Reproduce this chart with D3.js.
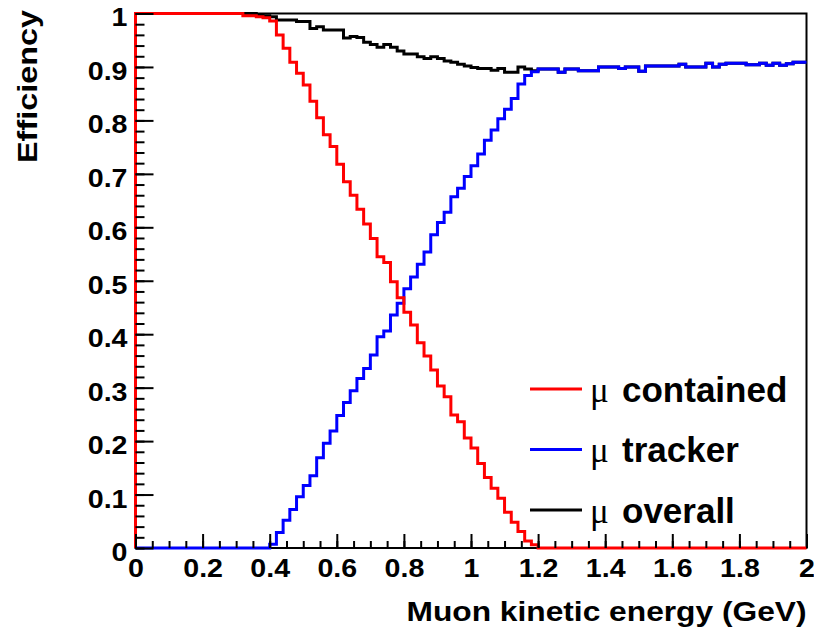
<!DOCTYPE html>
<html>
<head>
<meta charset="utf-8">
<script src="https://cdn.jsdelivr.net/npm/d3@7/dist/d3.min.js"></script>
<style>
  body { margin: 0; background: #fff; }
  svg text { font-family: "Liberation Sans", Arial, sans-serif; font-weight: bold; fill: #000; }
</style>
</head>
<body>
<script>
const WIDTH = 814;
const HEIGHT = 629;
const MARGIN = {left: 135.5, right: 7.5, top: 13.5, bottom: 81};

// histogram binning: 100 bins of 0.02 GeV between 0 and 2
const BIN_WIDTH = 0.02;

// efficiency per bin
const CONTAINED = [
  1, 1, 1, 1, 1, 1, 1, 1, 1, 1, 1, 1, 1, 1, 1, 1,
  0.996, 0.996, 0.994, 0.992, 0.986, 0.960, 0.935, 0.909, 0.888, 0.866,
  0.836, 0.805, 0.773, 0.751, 0.718, 0.685, 0.660, 0.634, 0.606, 0.579,
  0.545, 0.534, 0.498, 0.468, 0.441, 0.417, 0.384, 0.359, 0.333, 0.303,
  0.283, 0.249, 0.236, 0.206, 0.187, 0.158, 0.132, 0.112, 0.093, 0.067,
  0.048, 0.031, 0.013, 0.006,
  0, 0, 0, 0, 0, 0, 0, 0, 0, 0, 0, 0, 0, 0, 0, 0, 0, 0, 0, 0,
  0, 0, 0, 0, 0, 0, 0, 0, 0, 0, 0, 0, 0, 0, 0, 0, 0, 0, 0, 0
];

const TRACKER = [
  0, 0, 0, 0, 0, 0, 0, 0, 0, 0, 0, 0, 0, 0, 0, 0, 0, 0, 0, 0,
  0.007, 0.029, 0.052, 0.072, 0.096, 0.117, 0.135, 0.169, 0.196, 0.219,
  0.248, 0.272, 0.294, 0.317, 0.336, 0.361, 0.395, 0.406, 0.436, 0.458,
  0.485, 0.507, 0.531, 0.554, 0.586, 0.609, 0.628, 0.657, 0.673, 0.695,
  0.715, 0.737, 0.763, 0.782, 0.803, 0.821, 0.841, 0.868, 0.884, 0.891,
  0.896, 0.896, 0.896, 0.890, 0.896, 0.896, 0.893, 0.893, 0.893, 0.900,
  0.900, 0.900, 0.897, 0.900, 0.900, 0.892, 0.902, 0.902, 0.902, 0.902,
  0.902, 0.905, 0.900, 0.900, 0.900, 0.907, 0.900, 0.905, 0.907, 0.907,
  0.907, 0.904, 0.904, 0.907, 0.903, 0.907, 0.903, 0.906, 0.909, 0.909
];

const OVERALL = [
  1, 1, 1, 1, 1, 1, 1, 1, 1, 1, 1, 1, 1, 1, 1, 1, 1, 1,
  0.998, 0.996, 0.994, 0.988, 0.988, 0.988, 0.985, 0.985, 0.972, 0.975,
  0.969, 0.969, 0.969, 0.954, 0.957, 0.955, 0.946, 0.942, 0.937, 0.942,
  0.937, 0.930, 0.924, 0.924, 0.919, 0.916, 0.919, 0.916, 0.911, 0.909,
  0.905, 0.902, 0.899, 0.897, 0.897, 0.894, 0.897, 0.890, 0.890, 0.900,
  0.896, 0.893,
  0.896, 0.896, 0.896, 0.890, 0.896, 0.896, 0.893, 0.893, 0.893, 0.900,
  0.900, 0.900, 0.897, 0.900, 0.900, 0.892, 0.902, 0.902, 0.902, 0.902,
  0.902, 0.905, 0.900, 0.900, 0.900, 0.907, 0.900, 0.905, 0.907, 0.907,
  0.907, 0.904, 0.904, 0.907, 0.903, 0.907, 0.903, 0.906, 0.909, 0.909
];

const X_TICKS = [0, 0.2, 0.4, 0.6, 0.8, 1, 1.2, 1.4, 1.6, 1.8, 2];
const X_LABELS = ["0", "0.2", "0.4", "0.6", "0.8", "1", "1.2", "1.4", "1.6", "1.8", "2"];
const Y_TICKS = [0, 0.1, 0.2, 0.3, 0.4, 0.5, 0.6, 0.7, 0.8, 0.9, 1];
const Y_LABELS = ["0", "0.1", "0.2", "0.3", "0.4", "0.5", "0.6", "0.7", "0.8", "0.9", "1"];

const SERIES = [
  {name: "overall", color: "#000000", values: OVERALL},
  {name: "tracker", color: "#0000ff", values: TRACKER},
  {name: "contained", color: "#ff0000", values: CONTAINED}
];
const LEGEND = [
  {name: "contained", color: "#ff0000"},
  {name: "tracker", color: "#0000ff"},
  {name: "overall", color: "#000000"}
];

const svg = d3.select("body").append("svg")
  .attr("width", WIDTH)
  .attr("height", HEIGHT);

const x = d3.scaleLinear().domain([0, 2]).range([MARGIN.left, WIDTH - MARGIN.right]);
const y = d3.scaleLinear().domain([0, 1]).range([HEIGHT - MARGIN.bottom, MARGIN.top]);

// frame
svg.append("rect")
  .attr("x", x(0)).attr("y", y(1))
  .attr("width", x(2) - x(0)).attr("height", y(0) - y(1))
  .attr("fill", "none").attr("stroke", "#000").attr("stroke-width", 2);

// histograms as step outlines
const line = d3.line().x(d => x(d[0])).y(d => y(d[1])).curve(d3.curveStepAfter);
const toPoints = vals => {
  const pts = [[0, 0]];
  vals.forEach((v, i) => pts.push([i * BIN_WIDTH, v]));
  pts.push([vals.length * BIN_WIDTH, vals[vals.length - 1]]);
  return pts;
};

svg.append("g").selectAll("path")
  .data(SERIES)
  .join("path")
  .attr("d", d => line(toPoints(d.values)))
  .attr("fill", "none")
  .attr("stroke", d => d.color)
  .attr("stroke-width", 3)
  .attr("stroke-linejoin", "miter");

// axes (ticks pointing into the frame)
const xMinor = svg.append("g")
  .attr("transform", `translate(0,${y(0)})`)
  .call(d3.axisBottom(x).ticks(40).tickSize(-7).tickFormat(""));
const xAxis = svg.append("g")
  .attr("transform", `translate(0,${y(0)})`)
  .call(d3.axisBottom(x).tickValues(X_TICKS).tickSize(-14).tickPadding(11)
    .tickFormat((d, i) => X_LABELS[i]));
const yMinor = svg.append("g")
  .attr("transform", `translate(${x(0)},0)`)
  .call(d3.axisLeft(y).ticks(50).tickSize(-9).tickFormat(""));
const yAxis = svg.append("g")
  .attr("transform", `translate(${x(0)},0)`)
  .call(d3.axisLeft(y).tickValues(Y_TICKS).tickSize(-18).tickPadding(8)
    .tickFormat((d, i) => Y_LABELS[i]));

[xMinor, xAxis, yMinor, yAxis].forEach(g => {
  g.select(".domain").remove();
  g.selectAll(".tick line").attr("stroke", "#000").attr("stroke-width", 2);
  g.selectAll("text").style("font-size", "26px").attr("fill", "#000");
});
yAxis.selectAll("text").attr("dy", "0.48em");

// the original glyphs run a bit wider than Liberation Sans
[xAxis, yAxis].forEach(g => {
  g.selectAll("text").each(function() {
    const w = this.getComputedTextLength();
    d3.select(this).attr("textLength", w * 1.1).attr("lengthAdjust", "spacingAndGlyphs");
  });
});

// axis titles
svg.append("text")
  .attr("x", x(2)).attr("y", 621)
  .attr("text-anchor", "end")
  .style("font-size", "28px")
  .attr("textLength", 400).attr("lengthAdjust", "spacingAndGlyphs")
  .text("Muon kinetic energy (GeV)");

svg.append("text")
  .attr("transform", "translate(37,10) rotate(-90)")
  .attr("text-anchor", "end")
  .style("font-size", "28px")
  .attr("textLength", 153).attr("lengthAdjust", "spacingAndGlyphs")
  .text("Efficiency");

// legend
const legend = svg.append("g").attr("transform", "translate(530,389)");
const item = legend.selectAll("g")
  .data(LEGEND)
  .join("g")
  .attr("transform", (d, i) => `translate(0,${i * 60.5})`);
item.append("line")
  .attr("x1", 0).attr("x2", 52)
  .attr("stroke", d => d.color).attr("stroke-width", 3);
const label = item.append("text").attr("x", 60).attr("y", 12.5).style("font-size", "35px");
label.append("tspan")
  .style("font-family", "'Liberation Serif', serif").style("font-weight", "normal")
  .text("μ");
label.append("tspan")
  .attr("x", 92)
  .text(d => d.name);
</script>
</body>
</html>
